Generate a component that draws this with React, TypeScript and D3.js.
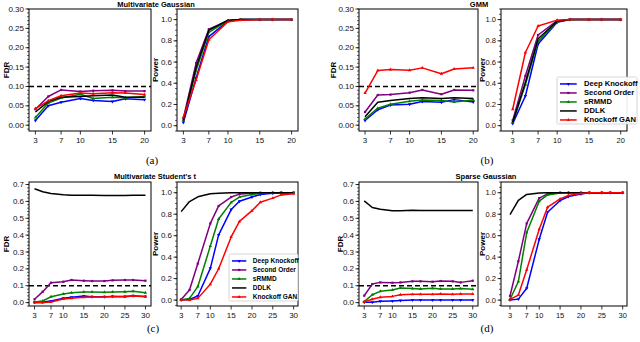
import React from "react";
import * as d3 from "d3";

const methods = ["Deep Knockoff", "Second Order", "sRMMD", "DDLK", "Knockoff GAN"];
const colors = ["#0000ff", "#800080", "#008000", "#000000", "#ff0000"];
const symbols = [d3.symbolTriangle, d3.symbolSquare, d3.symbolTriangle, null, d3.symbolTriangle];
const symbolRot = [180, 0, 0, 0, 0];

const xTop = [3, 5, 7, 10, 12, 15, 17, 20];
const xBottom = [3, 5, 7, 10, 12, 15, 17, 20, 22, 25, 27, 30];
const xTicksTop = [3, 7, 10, 15, 20];
const xTicksBottom = [3, 7, 10, 15, 20, 25, 30];
const fdrTicksTop = [0, 0.05, 0.1, 0.15, 0.2, 0.25, 0.3];
const fdrTicksBottom = [0, 0.1, 0.2, 0.3, 0.4, 0.5, 0.6, 0.7];
const powerTicks = [0, 0.2, 0.4, 0.6, 0.8, 1.0];
const fdrTarget = 0.1;

const gaussFdr = [
  [0.012, 0.05, 0.059, 0.069, 0.064, 0.061, 0.068, 0.066],
  [0.041, 0.074, 0.091, 0.087, 0.089, 0.09, 0.088, 0.088],
  [0.02, 0.057, 0.07, 0.08, 0.069, 0.072, 0.071, 0.074],
  [0.034, 0.061, 0.072, 0.074, 0.076, 0.078, 0.072, 0.072],
  [0.043, 0.063, 0.076, 0.083, 0.081, 0.084, 0.083, 0.079],
];
const gaussPower = [
  [0.03, 0.45, 0.84, 0.985, 1, 1, 1, 1],
  [0.07, 0.59, 0.91, 0.99, 1, 1, 1, 1],
  [0.05, 0.52, 0.88, 0.99, 1, 1, 1, 1],
  [0.05, 0.55, 0.9, 0.995, 1, 1, 1, 1],
  [0.08, 0.43, 0.81, 0.98, 0.995, 1, 1, 1],
];
const gmmFdr = [
  [0.012, 0.04, 0.052, 0.054, 0.061, 0.059, 0.066, 0.06],
  [0.034, 0.078, 0.079, 0.084, 0.091, 0.08, 0.091, 0.09],
  [0.016, 0.044, 0.054, 0.062, 0.065, 0.064, 0.06, 0.065],
  [0.022, 0.059, 0.064, 0.069, 0.071, 0.069, 0.071, 0.069],
  [0.083, 0.141, 0.144, 0.142, 0.148, 0.133, 0.145, 0.148],
];
const gmmPower = [
  [0.02, 0.28, 0.77, 0.975, 1, 1, 1, 1],
  [0.05, 0.47, 0.855, 0.99, 1, 1, 1, 1],
  [0.03, 0.385, 0.795, 0.98, 1, 1, 1, 1],
  [0.03, 0.41, 0.82, 0.985, 1, 1, 1, 1],
  [0.155, 0.69, 0.94, 0.995, 1, 1, 1, 1],
];
const studentFdr = [
  [0.002, 0.004, 0.01, 0.026, 0.032, 0.039, 0.035, 0.035, 0.037, 0.037, 0.041, 0.037],
  [0.02, 0.065, 0.118, 0.124, 0.134, 0.13, 0.128, 0.128, 0.132, 0.134, 0.134, 0.13],
  [0.004, 0.01, 0.035, 0.051, 0.059, 0.063, 0.063, 0.061, 0.063, 0.065, 0.067, 0.059],
  [0.675, 0.657, 0.647, 0.639, 0.637, 0.636, 0.636, 0.635, 0.635, 0.635, 0.636, 0.636],
  [0, 0, 0.004, 0.022, 0.026, 0.032, 0.034, 0.034, 0.037, 0.035, 0.039, 0.035],
];
const studentPower = [
  [0, 0.006, 0.038, 0.296, 0.607, 0.843, 0.92, 0.96, 0.984, 0.995, 1, 1],
  [0.006, 0.094, 0.34, 0.714, 0.877, 0.96, 0.987, 0.997, 1, 1, 1, 1],
  [0.003, 0.016, 0.126, 0.503, 0.755, 0.91, 0.96, 0.984, 0.995, 1, 1, 1],
  [0.824, 0.918, 0.962, 0.99, 0.995, 1, 1, 1, 1, 1, 1, 1],
  [0.003, 0, 0.016, 0.148, 0.292, 0.588, 0.733, 0.833, 0.912, 0.95, 0.98, 0.99],
];
const sparseFdr = [
  [0.002, 0.002, 0.008, 0.01, 0.012, 0.016, 0.016, 0.016, 0.016, 0.016, 0.016, 0.016],
  [0.041, 0.11, 0.12, 0.118, 0.12, 0.126, 0.126, 0.124, 0.128, 0.126, 0.12, 0.13],
  [0.006, 0.047, 0.067, 0.075, 0.087, 0.083, 0.081, 0.085, 0.081, 0.081, 0.083, 0.079],
  [0.603, 0.564, 0.554, 0.544, 0.544, 0.548, 0.546, 0.546, 0.546, 0.546, 0.546, 0.546],
  [0.004, 0.02, 0.032, 0.037, 0.047, 0.049, 0.049, 0.049, 0.051, 0.049, 0.051, 0.051],
];
const sparsePower = [
  [0, 0.009, 0.11, 0.566, 0.818, 0.928, 0.965, 0.987, 1, 1, 1, 1],
  [0.038, 0.362, 0.714, 0.95, 0.99, 1, 1, 1, 1, 1, 1, 1],
  [0.006, 0.173, 0.629, 0.921, 0.98, 0.997, 1, 1, 1, 1, 1, 1],
  [0.795, 0.928, 0.984, 0.997, 1, 1, 1, 1, 1, 1, 1, 1],
  [0.006, 0.047, 0.283, 0.66, 0.865, 0.943, 0.975, 0.994, 1, 1, 1, 1],
];

const titles = ["Multivariate Gaussian", "GMM", "Multivariate Student's t", "Sparse Gaussian"];
const captions = ["(a)", "(b)", "(c)", "(d)"];

const FONT = "Liberation Sans, Arial, sans-serif";

type Frame = { x: number; y: number; w: number; h: number };

function Marker({ i, x, y, size }: { i: number; x: number; y: number; size: number }) {
  const s = symbols[i];
  if (!s) return null;
  const p = d3.symbol().type(s).size(size)();
  return (
    <path
      d={p || ""}
      transform={`translate(${x},${y}) rotate(${symbolRot[i]})`}
      fill={colors[i]}
      stroke="none"
    />
  );
}

function Panel(props: {
  frame: Frame;
  xDomain: [number, number];
  yDomain: [number, number];
  xs: number[];
  xTicks: number[];
  yTicks: number[];
  yFmt: string;
  minor: number;
  data: number[][];
  ylabel: string;
  ylabelX: number;
  tickFs?: number;
  dashed?: boolean;
  legend?: { x: number; y: number; w: number; h: number; fs: number; row: number };
}) {
  const { frame, xDomain, yDomain, xs, xTicks, yTicks, yFmt, minor, data, ylabel, ylabelX, dashed, legend } = props;
  const tickFs = props.tickFs ?? 8;
  const x = d3.scaleLinear().domain(xDomain).range([frame.x, frame.x + frame.w]);
  const y = d3.scaleLinear().domain(yDomain).range([frame.y + frame.h, frame.y]);
  const fmt = d3.format(yFmt);
  const line = d3
    .line<number>()
    .x((_, k) => x(xs[k]))
    .y((v) => y(v));
  const minorTicks = d3
    .range(Math.ceil(yDomain[0] / minor), Math.floor(yDomain[1] / minor) + 1)
    .map((k) => k * minor);
  const clipId = `clip-${frame.x}-${frame.y}`;
  return (
    <g>
      <defs>
        <clipPath id={clipId}>
          <rect x={frame.x} y={frame.y} width={frame.w} height={frame.h} />
        </clipPath>
      </defs>
      <rect x={frame.x} y={frame.y} width={frame.w} height={frame.h} fill="white" />
      {dashed && (
        <line
          x1={frame.x}
          x2={frame.x + frame.w}
          y1={y(fdrTarget)}
          y2={y(fdrTarget)}
          stroke="#000"
          strokeWidth={1.5}
          strokeDasharray="5,3"
        />
      )}
      <g clipPath={`url(#${clipId})`}>
        {data.map((vals, i) => (
          <g key={i}>
            <path d={line(vals) || ""} fill="none" stroke={colors[i]} strokeWidth={1.5} strokeLinejoin="round" />
            {vals.map((v, k) => (
              <Marker key={k} i={i} x={x(xs[k])} y={y(v)} size={5} />
            ))}
          </g>
        ))}
      </g>
      <rect x={frame.x} y={frame.y} width={frame.w} height={frame.h} fill="none" stroke="#000" strokeWidth={1} />
      {minorTicks.map((t, k) => (
        <line key={"m" + k} x1={frame.x} x2={frame.x - 2} y1={y(t)} y2={y(t)} stroke="#000" strokeWidth={0.6} />
      ))}
      {yTicks.map((t, k) => (
        <g key={"y" + k}>
          <line x1={frame.x} x2={frame.x - 3.5} y1={y(t)} y2={y(t)} stroke="#000" strokeWidth={0.8} />
          <text
            x={frame.x - 5}
            y={y(t)}
            textAnchor="end"
            dominantBaseline="central"
            fontFamily={FONT}
            fontSize={tickFs}
            fill="#111"
          >
            {fmt(t)}
          </text>
        </g>
      ))}
      {xTicks.map((t, k) => (
        <g key={"x" + k}>
          <line
            x1={x(t)}
            x2={x(t)}
            y1={frame.y + frame.h}
            y2={frame.y + frame.h + 3.5}
            stroke="#000"
            strokeWidth={0.8}
          />
          <text
            x={x(t)}
            y={frame.y + frame.h + 12}
            textAnchor="middle"
            fontFamily={FONT}
            fontSize={tickFs}
            fill="#111"
          >
            {t}
          </text>
        </g>
      ))}
      <text
        transform={`translate(${ylabelX},${frame.y + frame.h / 2}) rotate(-90)`}
        textAnchor="middle"
        dominantBaseline="central"
        fontFamily={FONT}
        fontWeight="bold"
        fontSize={8}
        fill="#000"
      >
        {ylabel}
      </text>
      {legend && (
        <g>
          <rect
            x={legend.x}
            y={legend.y}
            width={legend.w}
            height={legend.h}
            fill="white"
            fillOpacity={0.9}
            stroke="#cccccc"
            strokeWidth={0.8}
            rx={1.5}
          />
          {methods.map((m, i) => {
            const ry = legend.y + legend.row * 0.55 + 2 + i * legend.row;
            return (
              <g key={m}>
                <line
                  x1={legend.x + 3}
                  x2={legend.x + 3 + legend.fs * 2.2}
                  y1={ry}
                  y2={ry}
                  stroke={colors[i]}
                  strokeWidth={1.5}
                />
                <Marker i={i} x={legend.x + 3 + legend.fs * 1.1} y={ry} size={5} />
                <text
                  x={legend.x + 5 + legend.fs * 2.9}
                  y={ry}
                  dominantBaseline="central"
                  fontFamily={FONT}
                  fontWeight="bold"
                  fontSize={legend.fs}
                  fill="#000"
                >
                  {m}
                </text>
              </g>
            );
          })}
        </g>
      )}
    </g>
  );
}

export default function App() {
  const topY = 9;
  const topH = 122;
  const botY = 182;
  const botH = 124;
  return (
    <div style={{ position: "fixed", left: 0, top: 0, width: 640, height: 342, background: "white" }}>
      <svg width={640} height={342} viewBox="0 0 640 342">
        <rect width={640} height={342} fill="white" />
        {/* (a) */}
        <Panel
          frame={{ x: 29, y: topY, w: 122, h: topH }}
          xDomain={[2.0, 21.0]}
          yDomain={[-0.015, 0.3]}
          xs={xTop}
          xTicks={xTicksTop}
          yTicks={fdrTicksTop}
          yFmt=".2f"
          minor={0.01}
          data={gaussFdr}
          ylabel="FDR"
          ylabelX={6}
          dashed
        />
        <Panel
          frame={{ x: 177, y: topY, w: 121, h: topH }}
          xDomain={[2.0, 21.0]}
          yDomain={[-0.05, 1.1]}
          xs={xTop}
          xTicks={xTicksTop}
          yTicks={powerTicks}
          yFmt=".1f"
          minor={0.05}
          data={gaussPower}
          ylabel="Power"
          ylabelX={155}
        />
        {/* (b) */}
        <Panel
          frame={{ x: 359, y: topY, w: 119, h: topH }}
          xDomain={[2.05, 20.75]}
          yDomain={[-0.015, 0.3]}
          xs={xTop}
          xTicks={xTicksTop}
          yTicks={fdrTicksTop}
          yFmt=".2f"
          minor={0.01}
          data={gmmFdr}
          ylabel="FDR"
          ylabelX={333}
          dashed
        />
        <Panel
          frame={{ x: 501, y: topY, w: 126, h: topH }}
          xDomain={[1.16, 20.99]}
          yDomain={[-0.05, 1.1]}
          xs={xTop}
          xTicks={xTicksTop}
          yTicks={powerTicks}
          yFmt=".1f"
          minor={0.05}
          data={gmmPower}
          ylabel="Power"
          ylabelX={482}
          tickFs={7.5}
          legend={{ x: 557, y: 77, w: 80, h: 47, fs: 7.6, row: 9 }}
        />
        {/* (c) */}
        <Panel
          frame={{ x: 29, y: botY, w: 122, h: botH }}
          xDomain={[1.65, 31.35]}
          yDomain={[-0.02, 0.715]}
          xs={xBottom}
          xTicks={xTicksBottom}
          yTicks={fdrTicksBottom}
          yFmt=".1f"
          minor={0.02}
          data={studentFdr}
          ylabel="FDR"
          ylabelX={6}
          dashed
        />
        <Panel
          frame={{ x: 177, y: botY, w: 121, h: botH }}
          xDomain={[2.0, 31.05]}
          yDomain={[-0.055, 1.1]}
          xs={xBottom}
          xTicks={xTicksBottom}
          yTicks={powerTicks}
          yFmt=".1f"
          minor={0.05}
          data={studentPower}
          ylabel="Power"
          ylabelX={155}
          legend={{ x: 229, y: 254, w: 69, h: 47, fs: 6.5, row: 9 }}
        />
        {/* (d) */}
        <Panel
          frame={{ x: 359, y: botY, w: 119, h: botH }}
          xDomain={[1.7, 31.3]}
          yDomain={[-0.02, 0.715]}
          xs={xBottom}
          xTicks={xTicksBottom}
          yTicks={fdrTicksBottom}
          yFmt=".1f"
          minor={0.02}
          data={sparseFdr}
          ylabel="FDR"
          ylabelX={340}
          dashed
        />
        <Panel
          frame={{ x: 501, y: botY, w: 126, h: botH }}
          xDomain={[0.84, 31.03]}
          yDomain={[-0.055, 1.1]}
          xs={xBottom}
          xTicks={xTicksBottom}
          yTicks={powerTicks}
          yFmt=".1f"
          minor={0.05}
          data={sparsePower}
          ylabel="Power"
          ylabelX={482}
          tickFs={7.5}
        />
        {[
          [156, 7],
          [479, 7],
          [155, 179],
          [486, 179],
        ].map(([tx, ty], i) => (
          <text
            key={"t" + i}
            x={tx}
            y={ty}
            textAnchor="middle"
            fontFamily={FONT}
            fontWeight="bold"
            fontSize={7.5}
            fill="#000"
          >
            {titles[i]}
          </text>
        ))}
        {[
          [152, 164],
          [487, 164],
          [153, 332],
          [487, 332],
        ].map(([tx, ty], i) => (
          <text
            key={"c" + i}
            x={tx}
            y={ty}
            textAnchor="middle"
            fontFamily="Liberation Serif, DejaVu Serif, serif"
            fontSize={11}
            fill="#000"
          >
            {captions[i]}
          </text>
        ))}
      </svg>
    </div>
  );
}
